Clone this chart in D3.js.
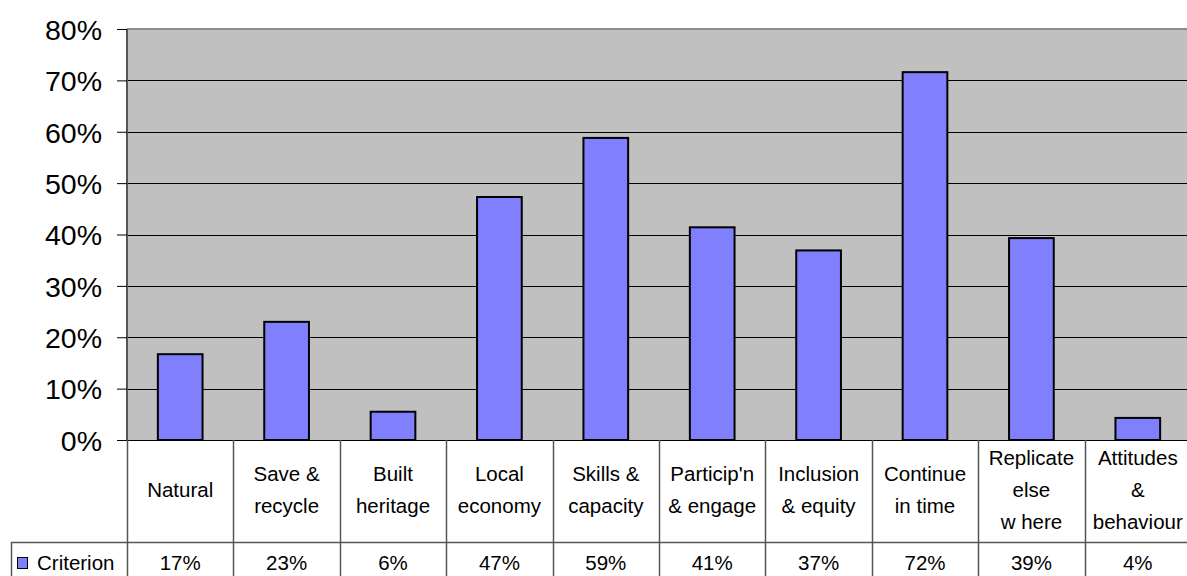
<!DOCTYPE html>
<html lang="en">
<head>
  <meta charset="UTF-8">
  <title>Criterion chart</title>
  <script src="https://d3js.org/d3.v7.min.js"></script>
  <style>
    body { margin: 0; background: #fff; overflow: hidden; }
    svg { display: block; font-family: "Liberation Sans", Arial, sans-serif; }
    .tick-label { font-size: 28.5px; fill: #000; }
    .cell { font-size: 20.5px; fill: #000; }
  </style>
</head>
<body>
  <svg width="1187" height="576"></svg>
  <script>
    // data
    const categories = [
      ["Natural"],
      ["Save &", "recycle"],
      ["Built", "heritage"],
      ["Local", "economy"],
      ["Skills &", "capacity"],
      ["Particip'n", "& engage"],
      ["Inclusion", "& equity"],
      ["Continue", "in time"],
      ["Replicate", "else", "w here"],
      ["Attitudes", "&", "behaviour"]
    ];
    const criterion = [0.167, 0.23, 0.055, 0.473, 0.588, 0.414, 0.369, 0.716, 0.393, 0.043];
    const yTicks = [0, 0.1, 0.2, 0.3, 0.4, 0.5, 0.6, 0.7, 0.8];
    const seriesName = "Criterion";

    const svg = d3.select("svg");
    const plotL = 127, plotR = 1191, plotT = 29, plotB = 440;
    const tableMid = 542, tableEnd = 600;

    const names = categories.map(c => c.join(" "));
    const x = d3.scaleBand().domain(names).range([plotL, plotR])
      .paddingInner(0.58).paddingOuter(0.29);
    const y = d3.scaleLinear().domain([0, 0.8]).range([plotB, plotT]);

    // plot background
    svg.append("rect")
      .attr("x", plotL).attr("y", plotT)
      .attr("width", plotR - plotL).attr("height", plotB - plotT)
      .attr("fill", "#c0c0c0");

    // top border of plot
    svg.append("line")
      .attr("x1", plotL).attr("x2", plotR)
      .attr("y1", plotT).attr("y2", plotT)
      .attr("stroke", "#8c8c8c").attr("stroke-width", 2);

    // gridlines
    svg.selectAll(".grid")
      .data(yTicks.filter(t => t > 0 && t < 0.8))
      .join("line")
      .attr("class", "grid")
      .attr("x1", plotL).attr("x2", plotR)
      .attr("y1", d => Math.round(y(d)) + 0.5).attr("y2", d => Math.round(y(d)) + 0.5)
      .attr("stroke", "#000").attr("stroke-width", 1);

    // y axis
    const yAxis = d3.axisLeft(y).tickValues(yTicks).tickFormat(d3.format(".0%"))
      .tickSize(10).tickPadding(15);
    const ag = svg.append("g").attr("transform", `translate(${plotL},0)`).call(yAxis);
    ag.select(".domain").attr("stroke", "#555").attr("stroke-width", 2)
      .attr("d", `M0,${plotT}V${plotB}`);
    ag.selectAll(".tick line").attr("stroke", "#000");
    ag.selectAll(".tick text").attr("class", "tick-label")
      .attr("font-size", null).attr("font-family", null).attr("dy", "0.36em");

    // bars
    svg.selectAll(".bar")
      .data(criterion)
      .join("rect")
      .attr("class", "bar")
      .attr("x", (d, i) => x(names[i]))
      .attr("width", x.bandwidth())
      .attr("y", d => y(d))
      .attr("height", d => y(0) - y(d))
      .attr("fill", "#8080ff")
      .attr("stroke", "#000").attr("stroke-width", 2);

    // baseline
    svg.append("line")
      .attr("x1", plotL - 10).attr("x2", plotR)
      .attr("y1", plotB + 0.5).attr("y2", plotB + 0.5)
      .attr("stroke", "#000");

    // category labels (drawn before the grid lines so overflow gets covered)
    const lineH = 32;
    categories.forEach((lines, i) => {
      const cx = x(names[i]) + x.bandwidth() / 2;
      const midY = 489.5;
      const y0 = midY - (lines.length - 1) * lineH / 2;
      lines.forEach((t, j) => {
        svg.append("text").attr("class", "cell")
          .attr("text-anchor", "middle")
          .attr("x", cx).attr("y", y0 + j * lineH)
          .attr("dy", "0.36em")
          .text(t);
      });
    });

    // data table
    const step = x.step();
    const bounds = d3.range(categories.length + 1).map(i => plotL + i * step);
    svg.selectAll(".vline")
      .data(bounds)
      .join("line")
      .attr("class", "vline")
      .attr("x1", d => Math.round(d) + 0.5).attr("x2", d => Math.round(d) + 0.5)
      .attr("y1", plotB).attr("y2", tableEnd)
      .attr("stroke", "#555").attr("stroke-width", 1.5);

    svg.append("line")
      .attr("x1", 11).attr("x2", plotR)
      .attr("y1", tableMid + 0.5).attr("y2", tableMid + 0.5)
      .attr("stroke", "#555").attr("stroke-width", 1.5);
    svg.append("line")
      .attr("x1", 11.5).attr("x2", 11.5)
      .attr("y1", tableMid).attr("y2", tableEnd)
      .attr("stroke", "#555").attr("stroke-width", 1.5);

    // value row
    svg.selectAll(".val")
      .data(criterion)
      .join("text")
      .attr("class", "cell val")
      .attr("text-anchor", "middle")
      .attr("x", (d, i) => x(names[i]) + x.bandwidth() / 2)
      .attr("y", 563).attr("dy", "0.36em")
      .text(d => Math.round(d * 100) + "%");

    // legend key
    svg.append("rect")
      .attr("x", 17.5).attr("y", 557.5)
      .attr("width", 10).attr("height", 11)
      .attr("fill", "#8080ff").attr("stroke", "#000").attr("stroke-width", 1);
    svg.append("text").attr("class", "cell")
      .attr("x", 37).attr("y", 563).attr("dy", "0.36em")
      .attr("text-anchor", "start")
      .text(seriesName);
  </script>
</body>
</html>
